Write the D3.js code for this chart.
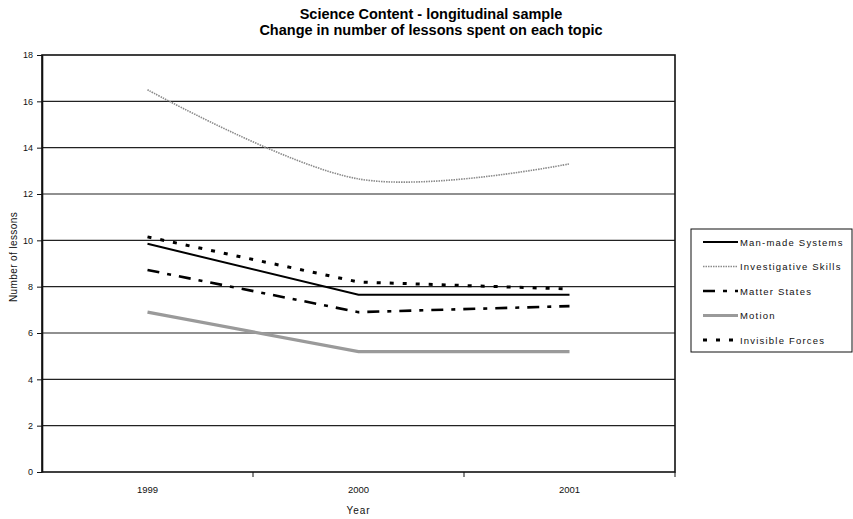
<!DOCTYPE html>
<html>
<head>
<meta charset="utf-8">
<script src="https://cdn.jsdelivr.net/npm/d3@7"></script>
<style>
  html, body { margin: 0; padding: 0; background: #fff; }
  svg { display: block; font-family: "Liberation Sans", Arial, sans-serif; }
</style>
</head>
<body>
<svg id="chart" width="853" height="519"></svg>
<script>
// Lessons spent on each science topic, per survey year
const years = ["1999", "2000", "2001"];
const manMade = [9.85, 7.65, 7.65];
const investigative = [16.5, 12.65, 13.3];
const matterStates = [8.72, 6.9, 7.16];
const motion = [6.9, 5.2, 5.2];
const invisibleForces = [10.15, 8.2, 7.9];
const yTicks = [0, 2, 4, 6, 8, 10, 12, 14, 16, 18];

const seriesNames = ["Man-made Systems", "Investigative Skills", "Matter States", "Motion", "Invisible Forces"];
const seriesValues = [manMade, investigative, matterStates, motion, invisibleForces];

const styles = [
  { stroke: "#000", width: 2, dash: null, smooth: false },
  { stroke: "#8a8a8a", width: 1.6, dash: "1.5,1", smooth: true },
  { stroke: "#000", width: 2.6, dash: "12,8,4,8", smooth: false },
  { stroke: "#9a9a9a", width: 3.2, dash: null, smooth: false },
  { stroke: "#000", width: 3, dash: "4,9", smooth: false }
];

const svg = d3.select("#chart");
const plot = { left: 42, right: 675, top: 55, bottom: 472 };

const x = d3.scaleBand().domain(years).range([plot.left, plot.right]);
const y = d3.scaleLinear().domain([0, 18]).range([plot.bottom, plot.top]);

// Title
const title = svg.append("text")
  .attr("text-anchor", "middle")
  .attr("font-weight", "bold").attr("font-size", 14.5).attr("fill", "#000");
title.append("tspan").attr("x", 431).attr("y", 19).text("Science Content - longitudinal sample");
title.append("tspan").attr("x", 431).attr("y", 35).text("Change in number of lessons spent on each topic");

// Horizontal gridlines
svg.append("g").selectAll("line")
  .data(yTicks.filter(d => d > 0 && d < 18))
  .join("line")
  .attr("x1", plot.left).attr("x2", plot.right)
  .attr("y1", d => y(d)).attr("y2", d => y(d))
  .attr("stroke", "#222").attr("stroke-width", 1.2);

// Plot frame
svg.append("rect")
  .attr("x", plot.left).attr("y", plot.top)
  .attr("width", plot.right - plot.left).attr("height", plot.bottom - plot.top)
  .attr("fill", "none").attr("stroke", "#111").attr("stroke-width", 1.6);

// Y axis
const yAxis = svg.append("g")
  .attr("transform", `translate(${plot.left},0)`)
  .call(d3.axisLeft(y).tickValues(yTicks).tickSize(5).tickSizeOuter(0).tickPadding(4));
yAxis.select(".domain").attr("stroke", "#111").attr("stroke-width", 1.6);
yAxis.selectAll(".tick line").attr("stroke", "#111");
yAxis.selectAll("text").attr("font-size", 9).attr("fill", "#111")
  .attr("font-family", "'Liberation Sans', Arial, sans-serif");

// X axis with ticks between categories
const xAxis = svg.append("g")
  .attr("transform", `translate(0,${plot.bottom})`)
  .call(d3.axisBottom(x).tickSize(0).tickPadding(14));
xAxis.select(".domain").remove();
xAxis.selectAll("text").attr("font-size", 9.5).attr("fill", "#111")
  .attr("font-family", "'Liberation Sans', Arial, sans-serif");
svg.append("g").selectAll("line")
  .data(years.slice(1).concat(["end"]))
  .join("line")
  .attr("x1", (d, i) => x(years[0]) + x.step() * (i + 1))
  .attr("x2", (d, i) => x(years[0]) + x.step() * (i + 1))
  .attr("y1", plot.bottom).attr("y2", plot.bottom + 5)
  .attr("stroke", "#111");

// Axis titles
svg.append("text")
  .attr("transform", `translate(17,257) rotate(-90)`)
  .attr("text-anchor", "middle").attr("font-size", 10).attr("fill", "#111")
  .attr("letter-spacing", 0.4)
  .text("Number of lessons");
svg.append("text")
  .attr("x", x("2000") + x.bandwidth() / 2).attr("y", 514)
  .attr("text-anchor", "middle").attr("font-size", 10).attr("fill", "#111")
  .attr("letter-spacing", 1)
  .text("Year");

// Series lines
const cx = d => x(d) + x.bandwidth() / 2;
seriesValues.forEach((vals, i) => {
  const s = styles[i];
  const line = d3.line()
    .x((d, j) => cx(years[j]))
    .y(d => y(d))
    .curve(s.smooth ? d3.curveCardinal.tension(0) : d3.curveLinear);
  svg.append("path")
    .datum(vals)
    .attr("d", line)
    .attr("fill", "none")
    .attr("stroke", s.stroke)
    .attr("stroke-width", s.width)
    .attr("stroke-dasharray", s.dash);
});

// Legend
const legend = svg.append("g").attr("transform", "translate(691,229)");
legend.append("rect")
  .attr("x", 0).attr("y", 0).attr("width", 161).attr("height", 123)
  .attr("fill", "#fff").attr("stroke", "#111").attr("stroke-width", 1);
seriesNames.forEach((name, i) => {
  const s = styles[i];
  const ly = 13 + i * 24.5;
  legend.append("line")
    .attr("x1", 12).attr("x2", 47).attr("y1", ly).attr("y2", ly)
    .attr("stroke", s.stroke).attr("stroke-width", s.width)
    .attr("stroke-dasharray", s.dash);
  legend.append("text")
    .attr("x", 49).attr("y", ly + 3.5)
    .attr("font-size", 9.5).attr("fill", "#111")
    .attr("letter-spacing", 1.2)
    .text(name);
});
</script>
</body>
</html>
